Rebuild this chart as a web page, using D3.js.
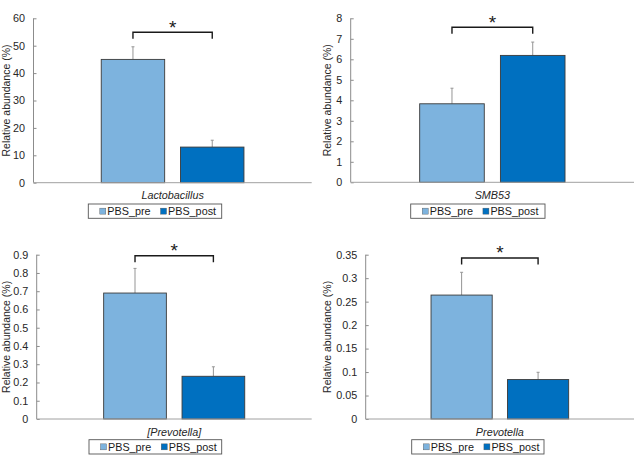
<!DOCTYPE html>
<html>
<head>
<meta charset="utf-8">
<script src="https://cdn.jsdelivr.net/npm/d3@7/dist/d3.min.js"></script>
<style>
  html, body { margin: 0; padding: 0; background: #fff; }
  svg { display: block; font-family: "Liberation Sans", Arial, sans-serif; }
</style>
</head>
<body>
<svg id="chart" width="639" height="458"></svg>
<script>
// ---- data ----
const categories = ["Lactobacillus", "SMB53", "[Prevotella]", "Prevotella"];
const seriesNames = ["PBS_pre", "PBS_post"];
const preValues  = [45.0, 3.83, 0.690, 0.264];
const postValues = [13.0, 6.19, 0.234, 0.084];
const preErrTop  = [49.6, 4.59, 0.825, 0.3125];
const postErrTop = [15.5, 6.84, 0.286, 0.0995];
const yMaxes     = [60, 8, 0.9, 0.35];
const tickLabels = [
  ["0","10","20","30","40","50","60"],
  ["0","1","2","3","4","5","6","7","8"],
  ["0","0.1","0.2","0.3","0.4","0.5","0.6","0.7","0.8","0.9"],
  ["0","0.05","0.1","0.15","0.2","0.25","0.3","0.35"]
];
const sigLevel   = [54.9, 7.56, 0.894, 0.343];
const sigLabel   = ["*", "*", "*", "*"];
const yTitle = "Relative abundance (%)";

// ---- layout (pixels) ----
const layout = [
  {left: 33.5,  right: 311.7, top: 18.3,  bottom: 182.7, titleX: 10,  legend: {x: 88.3,  y: 204,   w: 133.4, h: 14.3}},
  {left: 350.7, right: 634,   top: 18.3,  bottom: 182.3, titleX: 331, legend: {x: 410.7, y: 204,   w: 134.3, h: 14.3}},
  {left: 36.7,  right: 311.7, top: 254.7, bottom: 419,   titleX: 10,  legend: {x: 89,    y: 439.7, w: 132.7, h: 14.3}},
  {left: 365.7, right: 634,   top: 254.7, bottom: 419,   titleX: 331, legend: {x: 411.7, y: 439.7, w: 132.3, h: 14.3}}
];
const colors = {PBS_pre: "#7DB3DE", PBS_post: "#0070C0"};

const svg = d3.select("#chart");

categories.forEach((cat, i) => {
  const L = layout[i];
  const g = svg.append("g");
  const ticks = tickLabels[i].map(Number);

  const y = d3.scaleLinear().domain([0, yMaxes[i]]).range([L.bottom, L.top]);
  const xCat = d3.scaleBand().domain([cat]).range([L.left, L.right]);
  const cx = xCat(cat) + xCat.bandwidth() / 2;
  const W = L.right - L.left;
  const xs = d3.scaleBand().domain(seriesNames)
    .range([cx - 0.285 * W, cx + 0.285 * W]).paddingInner(0.2).paddingOuter(0.1);

  const rows = [
    {s: "PBS_pre",  v: preValues[i],  e: preErrTop[i]},
    {s: "PBS_post", v: postValues[i], e: postErrTop[i]}
  ];

  // error bars (behind bars)
  rows.forEach(r => {
    const ex = xs(r.s) + xs.bandwidth() / 2;
    g.append("line").attr("x1", ex).attr("x2", ex)
      .attr("y1", y(r.v)).attr("y2", y(r.e))
      .attr("stroke", "#959595").attr("stroke-width", 1);
    g.append("line").attr("x1", ex - 1.5).attr("x2", ex + 1.5)
      .attr("y1", y(r.e)).attr("y2", y(r.e))
      .attr("stroke", "#959595").attr("stroke-width", 1);
  });

  // bars
  g.selectAll("rect.bar").data(rows).enter().append("rect")
    .attr("class", "bar")
    .attr("x", d => xs(d.s))
    .attr("width", xs.bandwidth())
    .attr("y", d => y(d.v))
    .attr("height", d => y(0) - y(d.v))
    .attr("fill", d => colors[d.s])
    .attr("stroke", "#3a3a3a").attr("stroke-width", 0.9);

  // y axis
  const yAxis = d3.axisRight(y).tickValues(ticks).tickSize(3).tickFormat("");
  const ga = g.append("g").attr("transform", `translate(${L.left},0)`).call(yAxis);
  ga.select(".domain").attr("stroke", "#8c8c8c").attr("d", `M0,${L.top}V${L.bottom}`);
  ga.selectAll(".tick line").attr("stroke", "#8c8c8c");
  g.selectAll("text.ytick").data(ticks).enter().append("text")
    .attr("class", "ytick")
    .attr("x", L.left - 8.5)
    .attr("y", d => y(d))
    .attr("dy", "0.36em")
    .attr("text-anchor", "end")
    .attr("font-size", 10.8)
    .attr("fill", "#262626")
    .text((d, k) => tickLabels[i][k]);

  // x axis baseline
  const xAxis = d3.axisBottom(xCat).tickSize(0).tickFormat("");
  const gx = g.append("g").attr("transform", `translate(0,${L.bottom})`).call(xAxis);
  gx.select(".domain").attr("stroke", "#a0a0a0").attr("d", `M${L.left},0H${L.right}`);
  gx.selectAll(".tick").remove();

  // category label
  g.append("text")
    .attr("x", cx).attr("y", L.bottom + 16.5)
    .attr("text-anchor", "middle")
    .attr("font-size", 10.8).attr("font-style", "italic")
    .attr("fill", "#262626")
    .text(cat);

  // y title
  g.append("text")
    .attr("transform", `translate(${L.titleX},${(L.top + L.bottom) / 2}) rotate(-90)`)
    .attr("text-anchor", "middle")
    .attr("font-size", 10.5)
    .attr("fill", "#262626")
    .text(yTitle);

  // significance bracket
  const bx1 = xs("PBS_pre") + xs.bandwidth() / 2;
  const bx2 = xs("PBS_post") + xs.bandwidth() / 2;
  const by = y(sigLevel[i]);
  g.append("path")
    .attr("d", `M${bx1},${by + 6.5}V${by}H${bx2}V${by + 6.5}`)
    .attr("fill", "none").attr("stroke", "#1a1a1a").attr("stroke-width", 1.4);
  g.append("text")
    .attr("x", (bx1 + bx2) / 2).attr("y", by + 1.5)
    .attr("text-anchor", "middle")
    .attr("font-size", 19)
    .attr("fill", "#1a1a1a")
    .text(sigLabel[i]);

  // legend
  const lg = L.legend;
  const leg = g.append("g");
  leg.append("rect").attr("x", lg.x).attr("y", lg.y).attr("width", lg.w).attr("height", lg.h)
    .attr("fill", "#fff").attr("stroke", "#555").attr("stroke-width", 0.9);
  let px = lg.x + 11.5;
  seriesNames.forEach((s, k) => {
    leg.append("rect").attr("x", px).attr("y", lg.y + lg.h / 2 - 3).attr("width", 6).attr("height", 6)
      .attr("fill", colors[s]).attr("stroke", "#555").attr("stroke-width", 0.4);
    const t = leg.append("text").attr("x", px + 7.5).attr("y", lg.y + lg.h / 2)
      .attr("dy", "0.36em")
      .attr("font-size", 10.8).attr("fill", "#1a1a1a").text(s);
    const tw = t.node().getComputedTextLength();
    px = px + 7.5 + tw + 10;
  });
});
</script>
</body>
</html>
